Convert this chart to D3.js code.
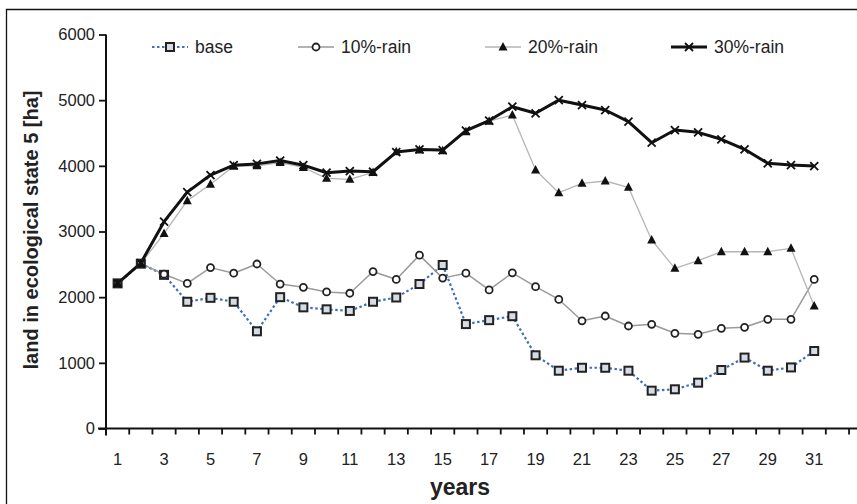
<!DOCTYPE html>
<html>
<head>
<meta charset="utf-8">
<script src="https://cdn.jsdelivr.net/npm/d3@7"></script>
<style>
  html, body { margin: 0; padding: 0; background: #fff; }
  svg { display: block; font-family: "Liberation Sans", Arial, sans-serif; }
</style>
</head>
<body>
<svg id="chart" width="857" height="504"></svg>
<script>
// Simulation years and land area (ha) in ecological state 5 per scenario
const years = d3.range(1, 32);
const baseValues   = [2210, 2510, 2340, 1930, 1990, 1930, 1480, 2000, 1845, 1815, 1790, 1930, 1995, 2200, 2490, 1590, 1650, 1710, 1115, 880, 925, 925, 880, 576, 597, 698, 891, 1080, 880, 930, 1180];
const rain10Values = [2210, 2510, 2350, 2210, 2450, 2365, 2505, 2200, 2150, 2080, 2060, 2390, 2270, 2640, 2290, 2365, 2110, 2370, 2160, 1965, 1640, 1713, 1561, 1587, 1450, 1434, 1526, 1541, 1663, 1663, 2270];
const rain20Values = [2210, 2510, 2970, 3470, 3720, 3995, 4000, 4050, 3975, 3810, 3795, 3900, 4215, 4240, 4230, 4520, 4680, 4775, 3936, 3591, 3734, 3769, 3673, 2870, 2439, 2555, 2692, 2692, 2692, 2744, 1865];
const rain30Values = [2210, 2520, 3150, 3600, 3860, 4010, 4030, 4080, 4010, 3895, 3920, 3910, 4210, 4250, 4240, 4535, 4690, 4900, 4800, 5000, 4926, 4850, 4672, 4352, 4545, 4510, 4404, 4252, 4038, 4012, 3997];
const seriesNames = ["base", "10%-rain", "20%-rain", "30%-rain"];
const yTicks = [0, 1000, 2000, 3000, 4000, 5000, 6000];
const xTickLabels = d3.range(1, 32, 2);

const svg = d3.select("#chart");

// Outer frame
svg.append("path")
  .attr("d", "M6.5,504 L6.5,9.5 L857,9.5")
  .attr("fill", "none").attr("stroke", "#111").attr("stroke-width", 1.3);

const x0 = 106, y0 = 428.5, yTop = 34.5;
const band = 23.22;
const x = d3.scaleBand().domain(d3.range(1, 34)).range([x0, x0 + 33 * band]).paddingInner(0).paddingOuter(0);
const cx = d => x(d) + band / 2;
const y = d3.scaleLinear().domain([0, 6000]).range([y0, yTop]);

// Y axis
const yAxis = svg.append("g").attr("transform", `translate(${x0},0)`)
  .call(d3.axisLeft(y).tickValues(yTicks).tickSize(7).tickPadding(4).tickFormat(d3.format("d")));
yAxis.select(".domain").attr("d", `M0,${yTop}V${y0 + 7}`).attr("stroke", "#111").attr("stroke-width", 2);
yAxis.selectAll(".tick line").attr("stroke", "#111").attr("stroke-width", 1.8);
yAxis.selectAll(".tick text").attr("font-size", 16.5).attr("fill", "#222");

// X axis: ticks sit on category boundaries, labels on odd years
const xAxisG = svg.append("g").attr("transform", `translate(0,${y0})`);
xAxisG.append("line").attr("x1", x0 - 8).attr("x2", 857).attr("stroke", "#111").attr("stroke-width", 2);
xAxisG.selectAll("line.tk").data(d3.range(1, 34)).join("line").attr("class", "tk")
  .attr("x1", d => x(d) + band).attr("x2", d => x(d) + band)
  .attr("y1", 0).attr("y2", 6).attr("stroke", "#111").attr("stroke-width", 1.8);
xAxisG.selectAll("text").data(xTickLabels).join("text")
  .attr("x", d => cx(d)).attr("y", 36)
  .attr("text-anchor", "middle").attr("font-size", 16.5).attr("fill", "#222")
  .text(d => d);

// Axis titles
svg.append("text").attr("x", 460).attr("y", 495).attr("text-anchor", "middle")
  .attr("font-size", 23).attr("font-weight", "bold").attr("fill", "#222").text("years");
svg.append("text").attr("transform", "translate(38,230) rotate(-90)").attr("text-anchor", "middle")
  .attr("font-size", 20).attr("font-weight", "bold").attr("fill", "#222").text("land in ecological state 5 [ha]");

const line = d3.line().x((d, i) => cx(years[i])).y(d => y(d));

// Marker drawing helpers
function square(g, px, py) {
  g.append("rect").attr("x", px - 4).attr("y", py - 4).attr("width", 8).attr("height", 8)
    .attr("fill", "#d5dce6").attr("stroke", "#222").attr("stroke-width", 2);
}
function circle(g, px, py) {
  g.append("circle").attr("cx", px).attr("cy", py).attr("r", 3.5)
    .attr("fill", "#fff").attr("stroke", "#222").attr("stroke-width", 1.8);
}
function triangle(g, px, py) {
  g.append("path").attr("d", `M${px},${py - 5}L${px + 4.5},${py + 3.5}L${px - 4.5},${py + 3.5}Z`)
    .attr("fill", "#111");
}
function cross(g, px, py) {
  g.append("path").attr("d", `M${px - 4},${py - 4}L${px + 4},${py + 4}M${px - 4},${py + 4}L${px + 4},${py - 4}`)
    .attr("stroke", "#111").attr("stroke-width", 1.8);
}

const series = [
  { name: seriesNames[0], values: baseValues,   color: "#3d6fc0", width: 2.2, dash: "2.5,2.5", marker: square,   lx: 152 },
  { name: seriesNames[1], values: rain10Values, color: "#9a9a9a", width: 1.5, dash: null,      marker: circle,   lx: 298 },
  { name: seriesNames[2], values: rain20Values, color: "#b5b5b5", width: 1.3, dash: null,      marker: triangle, lx: 485 },
  { name: seriesNames[3], values: rain30Values, color: "#111",    width: 3,   dash: null,      marker: cross,    lx: 671 }
];

const plot = svg.append("g");
series.forEach(s => {
  plot.append("path").datum(s.values).attr("d", line)
    .attr("fill", "none").attr("stroke", s.color).attr("stroke-width", s.width)
    .attr("stroke-dasharray", s.dash).attr("stroke-linejoin", "round");
});
series.forEach(s => {
  const g = plot.append("g");
  s.values.forEach((v, i) => s.marker(g, cx(years[i]), y(v)));
});

// Legend
const legY = 47;
series.forEach(s => {
  const g = svg.append("g");
  g.append("line").attr("x1", s.lx).attr("x2", s.lx + 36).attr("y1", legY).attr("y2", legY)
    .attr("stroke", s.color).attr("stroke-width", s.width).attr("stroke-dasharray", s.dash);
  s.marker(g, s.lx + 18, legY);
  g.append("text").attr("x", s.lx + 43).attr("y", legY + 6).attr("font-size", 17.5).attr("fill", "#222").text(s.name);
});
</script>
</body>
</html>
